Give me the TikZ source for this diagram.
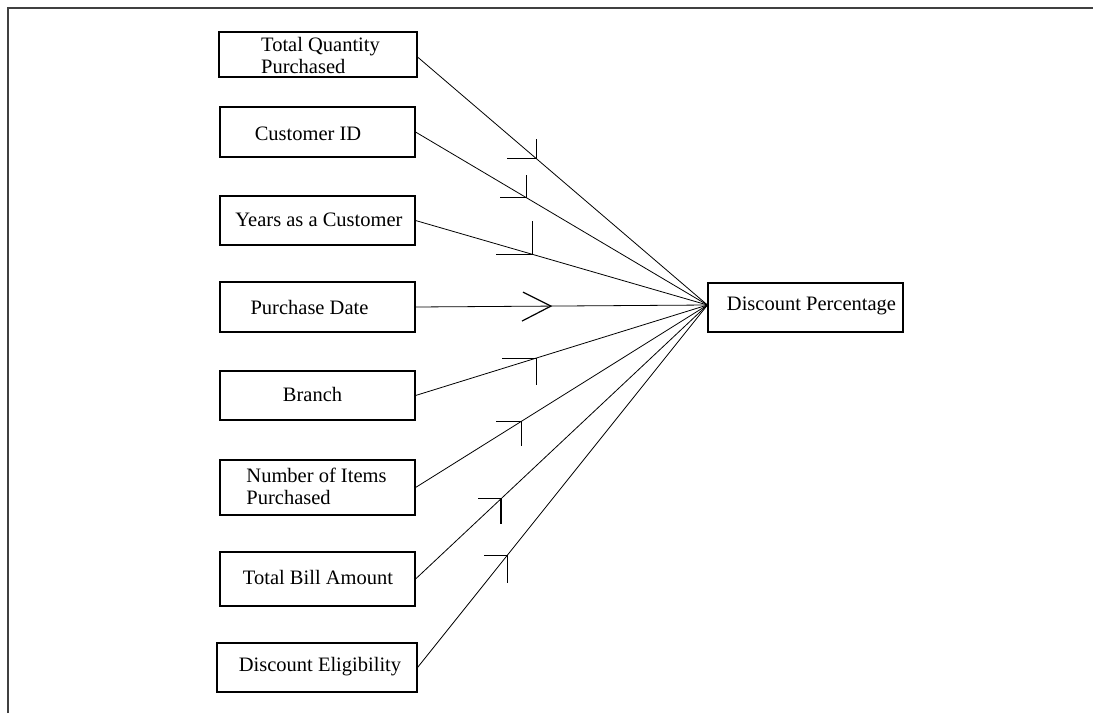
\documentclass[tikz,border=0pt]{standalone}
\usepackage{fontspec}
\setmainfont{Liberation Serif}
\usetikzlibrary{calc}
\begin{document}
\begin{tikzpicture}[x=1pt,y=-1pt,
  box/.style={draw=black, line width=1.1pt, minimum width=195pt, minimum height=49pt, inner sep=0pt},
  lbl/.style={font=\fontsize{20.5}{22}\selectfont, inner sep=0pt, align=left, text=black},
  link/.style={draw=black, line width=0.8pt},
  tick/.style={draw=black, line width=1.2pt},
  frame/.style={draw=black!75, line width=1.6pt}]
% canvas
\useasboundingbox (0,0) rectangle (1093,713);
\fill[white] (0,0) rectangle (1093,713);
\draw[frame] (8,713) -- (8,8) -- (1093,8);

% factor boxes
\node[box, minimum width=198pt, minimum height=45pt] (tq) at (318,54.5) {};
\node[box, minimum height=50pt] (cid) at (317.5,132) {};
\node[box] (yrs) at (317.5,220.5) {};
\node[box, minimum height=50pt] (pd) at (317.5,307) {};
\node[box] (br) at (317.5,395.5) {};
\node[box, minimum height=55pt] (ni) at (317.5,487.5) {};
\node[box, minimum height=54pt] (tb) at (317.5,579) {};
\node[box, minimum width=200pt] (de) at (317,667.5) {};
% outcome box
\node[box, minimum height=49pt] (dp) at (805.5,307.5) {};

% box texts
\node[lbl] at (320.5,55) {Total Quantity\\Purchased};
\node[lbl] at (308,134) {Customer ID};
\node[lbl] at (319,219.5) {Years as a Customer};
\node[lbl] at (309.5,307) {Purchase Date};
\node[lbl] at (312.5,394.5) {Branch};
\node[lbl] at (316.5,486.5) {Number of Items\\Purchased};
\node[lbl] at (318,577.5) {Total Bill Amount};
\node[lbl] at (320,666.5) {Discount Eligibility};
\node[lbl] at (811.5,305.5) {Discount Percentage};

% common end point of all links
\coordinate (hub) at ([yshift=2.5pt]dp.west);

% links with their direction marks
\path[link] ([yshift=-2.5pt]tq.east) -- coordinate[pos=0.41] (m1) (hub);
\draw[tick] ([xshift=-29pt]m1) -- (m1) -- ++(0,-20);

\path[link] (cid.east) -- coordinate[pos=0.379] (m2) (hub);
\draw[tick] ([xshift=-26pt]m2) -- (m2) -- ++(0,-23);

\path[link] (yrs.east) -- coordinate[pos=0.40] (m3) (hub);
\draw[tick] ([xshift=-36pt]m3) -- (m3) -- ++(0,-33);

\path[link] (pd.east) -- coordinate[pos=0.464] (m4) (hub);
\draw[tick] ($(m4)+(-28,-14)$) -- (m4) -- ++(-29,15);

\path[link] (br.east) -- coordinate[pos=0.413] (m5) (hub);
\draw[tick] ([xshift=-34pt]m5) -- (m5) -- ++(0,27);

\path[link] (ni.east) -- coordinate[pos=0.362] (m6) (hub);
\draw[tick] ([xshift=-25pt]m6) -- (m6) -- ++(0,25);

\path[link] (tb.east) -- coordinate[pos=0.293] (m7) (hub);
\draw[tick] ([xshift=-23pt]m7) -- (m7) -- ++(0,25);

\path[link] (de.east) -- coordinate[pos=0.309] (m8) (hub);
\draw[tick] ([xshift=-23pt]m8) -- (m8) -- ++(0,28);
\end{tikzpicture}
\end{document}
